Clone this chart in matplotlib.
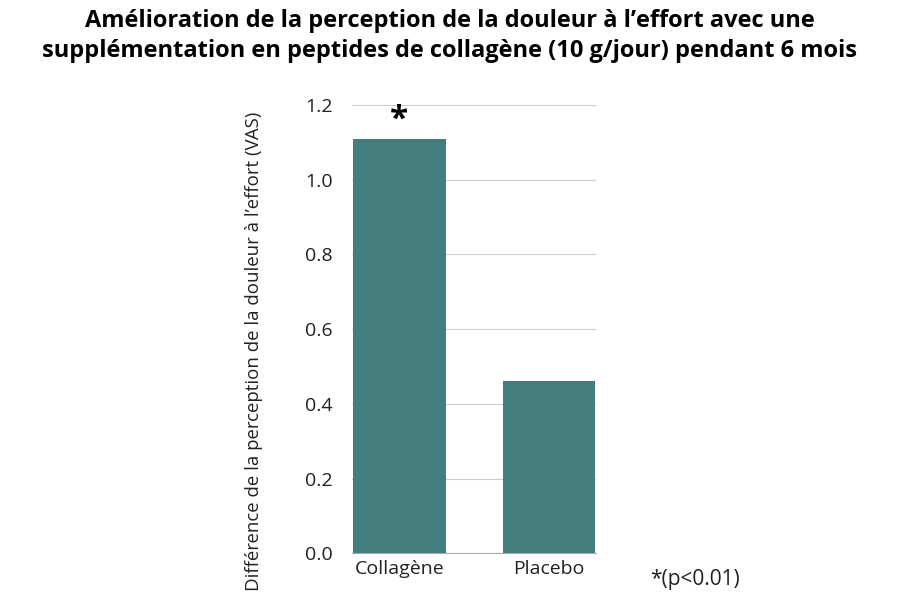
import matplotlib.pyplot as plt

categories = ["Collagène", "Placebo"]
values = [1.11, 0.46]
yticks = [0.0, 0.2, 0.4, 0.6, 0.8, 1.0, 1.2]

plt.rcParams["font.family"] = "Open Sans"

fig = plt.figure(figsize=(9, 6), dpi=100)
ax = fig.add_axes([0.391, 0.078, 0.271, 0.747])

x = range(len(categories))
ax.bar(x, values, width=0.62, color="#437d7d", zorder=3)
ax.set_xlim(-0.318, 1.314)
ax.set_ylim(0, 1.2)
ax.set_yticks(yticks)
ax.set_yticklabels([f"{v:.1f}" for v in yticks])
ax.set_xticks(list(x))
ax.set_xticklabels(categories)
ax.tick_params(axis="both", length=0, labelsize=14, colors="#222222")
ax.tick_params(axis="y", pad=14)
ax.tick_params(axis="x", pad=5)
ax.grid(axis="y", color="#cccccc", linewidth=0.8, zorder=0)
for s in ["top", "right", "left"]:
    ax.spines[s].set_visible(False)
ax.spines["bottom"].set_color("#aaaaaa")

ax.set_ylabel("Différence de la perception de la douleur à l’effort (VAS)",
              fontsize=13.4, color="#222222", labelpad=30, y=0.45)
ax.text(0, values[0] + 0.005, "*", ha="center", va="bottom", fontsize=24, fontweight="bold")

fig.suptitle("Amélioration de la perception de la douleur à l’effort avec une\n"
             "supplémentation en peptides de collagène (10 g/jour) pendant 6 mois",
             fontsize=17, fontweight="bold", y=0.985, linespacing=1.35)
fig.text(0.722, 0.025, "*(p<0.01)", fontsize=15, color="#222222")

fig.savefig("out.png", dpi=100)
